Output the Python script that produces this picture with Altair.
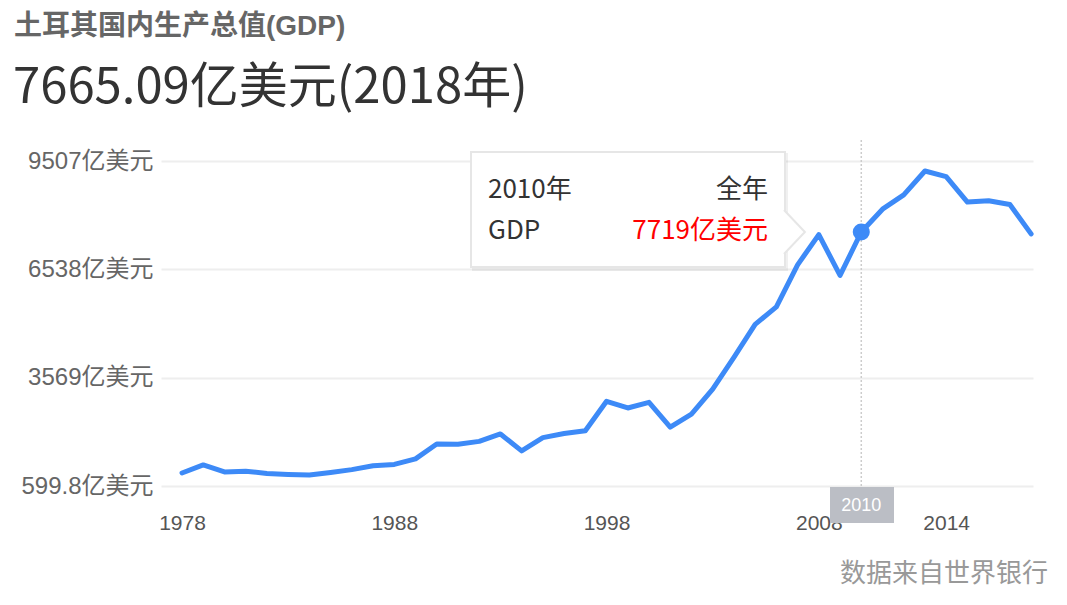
import altair as alt
import pandas as pd

# ---- data (亿美元) ----
years = list(range(1978, 2019))
gdp = [659, 894, 688, 710, 645, 617, 599.8, 672, 757, 872,
       909, 1071, 1507, 1500, 1585, 1802, 1307, 1695, 1815, 1898,
       2759, 2564, 2729, 2003, 2384, 3118, 4048, 5014, 5525, 6758,
       7643, 6446, 7719, 8388, 8806, 9507, 9342, 8598, 8637, 8527,
       7665.09]
x_ticks = [1978, 1988, 1998, 2008, 2014]
y_tick_labels = ["599.8亿美元", "3569亿美元", "6538亿美元", "9507亿美元"]
title_text = "土耳其国内生产总值(GDP)"
headline = "7665.09亿美元(2018年)"
source_text = "数据来自世界银行"
hl_year = 2010
tip_rows = [("2010年", "全年"), ("GDP", "7719亿美元")]

df = pd.DataFrame({"year": years, "gdp": gdp})

# plotted scale domain (gridlines sit slightly outside the data extremes)
y_lo, y_hi = 277.5, 9800.0
step = (y_hi - y_lo) / 3
y_vals = [y_lo + i * step for i in range(4)]
expr = ""
for i in range(3):
    expr += f"datum.value < {y_vals[i] + step / 2} ? '{y_tick_labels[i]}' : "
expr += f"'{y_tick_labels[3]}'"

W, H = 872, 325
CJK = "Noto Sans CJK SC"
LAT = "Liberation Sans, Noto Sans CJK SC"
BLUE = "#3d8af7"

xs = alt.Scale(domain=[1977.01, 2018.09], nice=False, zero=False)
ys = alt.Scale(domain=[y_lo, y_hi], nice=False, zero=False)

x_axis = alt.Axis(values=x_ticks, format="d", title=None, grid=False, domain=False,
                  ticks=False, labelFont=LAT, labelFontSize=21, labelColor="#555555",
                  labelPadding=26, labelFlush=False)
y_axis = alt.Axis(values=y_vals, labelExpr=expr, title=None, domain=False, ticks=False,
                  grid=True, gridColor="#eeeeee", gridWidth=2, labelFont=LAT,
                  labelFontSize=24, labelColor="#666666", labelPadding=8)

base = alt.Chart(df)

line = base.mark_line(color=BLUE, strokeWidth=5, strokeCap="round", strokeJoin="round").encode(
    x=alt.X("year:Q", scale=xs, axis=x_axis),
    y=alt.Y("gdp:Q", scale=ys, axis=y_axis),
)

hl = df[df.year == hl_year]

vrule = alt.Chart(hl).mark_rule(color="#cccccc", strokeWidth=1.5, strokeDash=[2, 2]).encode(
    x=alt.X("year:Q", scale=xs, axis=x_axis), y=alt.value(-21), y2=alt.value(326))

dot = alt.Chart(hl).mark_point(filled=True, color=BLUE, size=290, opacity=1).encode(
    x=alt.X("year:Q", scale=xs, axis=x_axis), y=alt.Y("gdp:Q", scale=ys, axis=y_axis))

# year badge under the hovered point
badge = alt.Chart(hl).mark_rect(color="#bbbec5").encode(
    x=alt.value(669), x2=alt.value(733), y=alt.value(326), y2=alt.value(362))
badge_text = alt.Chart(hl).mark_text(font=LAT, fontSize=18, color="white",
                                     align="center", baseline="middle").encode(
    x=alt.X("year:Q", scale=xs, axis=x_axis), y=alt.value(345),
    text=alt.Text("year:Q", format="d"))

# tooltip box
tip_shadow = alt.Chart(hl).mark_rect(color="#000000", opacity=0.06).encode(
    x=alt.value(311), x2=alt.value(627), y=alt.value(-8), y2=alt.value(110))
tip_box = alt.Chart(hl).mark_rect(fill="white", stroke="#e6e6e6", strokeWidth=2).encode(
    x=alt.value(310), x2=alt.value(624), y=alt.value(-9), y2=alt.value(106))
tip_arrow = alt.Chart(hl).mark_point(shape="M0,-1L0.95,0L0,1", size=1936, fill="white",
                                     stroke="#e6e6e6", strokeWidth=2, filled=False,
                                     opacity=1, fillOpacity=1).encode(
    x=alt.value(623), y=alt.value(71))

tip_df = pd.DataFrame({
    "left": [r[0] for r in tip_rows],
    "right": [r[1] for r in tip_rows],
    "ypos": [29, 70],
    "rcolor": ["#333333", "#ff0000"],
})
tip_left = alt.Chart(tip_df).mark_text(font=CJK, fontSize=26, color="#333333",
                                       align="left", baseline="middle").encode(
    x=alt.value(327), y=alt.Y("ypos:Q", scale=None), text="left:N")
tip_right = alt.Chart(tip_df).mark_text(font=CJK, fontSize=26, align="right",
                                        baseline="middle").encode(
    x=alt.value(607), y=alt.Y("ypos:Q", scale=None), text="right:N",
    color=alt.Color("rcolor:N", scale=None))

# header and footer
hdr = pd.DataFrame({"t": [title_text]})
title_mark = alt.Chart(hdr).mark_text(font=LAT, fontSize=28, fontWeight="bold",
                                      color="#666666", align="left", baseline="middle").encode(
    x=alt.value(-147), y=alt.value(-134), text="t:N")
big_df = pd.DataFrame({"t": [headline]})
big_mark = alt.Chart(big_df).mark_text(font=CJK, fontSize=49, color="#333333",
                                       align="left", baseline="middle").encode(
    x=alt.value(-148), y=alt.value(-73), text="t:N")
src_df = pd.DataFrame({"t": [source_text]})
src_mark = alt.Chart(src_df).mark_text(font=CJK, fontSize=26, color="#999999",
                                       align="right", baseline="middle").encode(
    x=alt.value(887), y=alt.value(413), text="t:N")

chart = alt.layer(
    line, vrule, dot, badge, badge_text, tip_shadow, tip_box, tip_arrow,
    tip_left, tip_right, title_mark, big_mark, src_mark
).properties(
    width=W, height=H,
    background="white",
    autosize=alt.AutoSizeParams(type="none"),
    padding={"left": 153, "top": 153, "right": 20, "bottom": 112},
).configure_view(stroke="transparent", strokeWidth=0)

chart.save("out.html", embed_options={"renderer": "svg", "actions": False})
